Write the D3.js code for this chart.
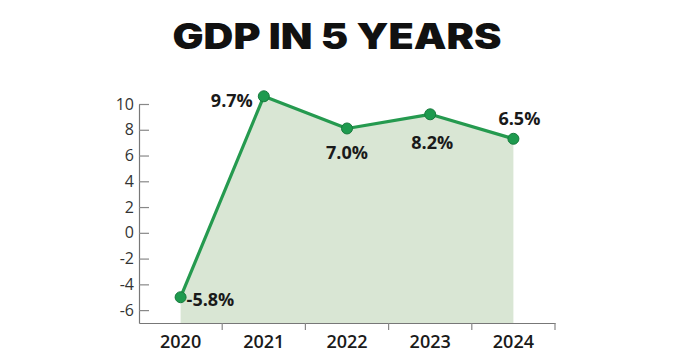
<!DOCTYPE html>
<html><head><meta charset="utf-8">
<script src="https://cdn.jsdelivr.net/npm/d3@7"></script>
<style>body{margin:0;background:#fff}svg{display:block}</style>
</head><body>
<svg id="c" width="675" height="360"></svg>
<script>
const years = ["2020","2021","2022","2023","2024"];
const values = [-5.0, 10.6, 8.1, 9.2, 7.3];
const labels = ["-5.8%","9.7%","7.0%","8.2%","6.5%"];
const yTicks = [-6,-4,-2,0,2,4,6,8,10];
const title = "GDP IN 5 YEARS";

const svg = d3.select("#c");
const x = d3.scaleBand().domain(years).range([139, 555]).padding(0);
const y = d3.scaleLinear().domain([-7, 10]).range([323, 104]);
const cx = d => x(d) + x.bandwidth()/2;

svg.append("text").attr("x", 337).attr("y", 49).attr("text-anchor","middle")
  .attr("font-family","Inter").attr("font-weight",900).attr("font-size",35)
  .attr("textLength",329).attr("lengthAdjust","spacingAndGlyphs")
  .attr("fill","#111").text(title);

const pts = years.map((yr,i)=>({yr, v: values[i], l: labels[i]}));

svg.append("path").datum(pts)
  .attr("fill","#d9e6d4")
  .attr("d", d3.area().x(d=>cx(d.yr)).y0(y(-7)).y1(d=>y(d.v)));

// y axis
const ya = svg.append("g").attr("transform","translate(139,0)")
  .call(d3.axisRight(y).tickValues(yTicks).tickSize(10).tickSizeOuter(0).tickFormat(d=>String(d)));
ya.select(".domain").attr("stroke","#777").attr("stroke-width",1.2);
ya.selectAll(".tick line").attr("stroke","#888").attr("stroke-width",1.2);
ya.selectAll(".tick text").attr("x",-5).attr("text-anchor","end")
  .attr("font-family","Open Sans").attr("font-size",16).attr("font-weight",500).attr("fill","#333");

// x axis
const xa = svg.append("g").attr("transform","translate(0,323)")
  .call(d3.axisBottom(x).tickSize(0).tickSizeOuter(0));
xa.select(".domain").attr("stroke","#777").attr("stroke-width",1.2);
xa.selectAll(".tick text").attr("dy",0).attr("y",25)
  .attr("font-family","Open Sans").attr("font-size",18).attr("font-weight",600).attr("fill","#1a1a1a");
xa.selectAll("line.sep").data(years).enter().append("line").attr("class","sep")
  .attr("x1",d=>x(d)+x.bandwidth()).attr("x2",d=>x(d)+x.bandwidth())
  .attr("y1",0).attr("y2",7).attr("stroke","#888").attr("stroke-width",1.2);

svg.append("path").datum(pts).attr("fill","none").attr("stroke","#259a4f").attr("stroke-width",3.2)
  .attr("stroke-linejoin","round")
  .attr("d", d3.line().x(d=>cx(d.yr)).y(d=>y(d.v)));

svg.selectAll("circle.pt").data(pts).enter().append("circle").attr("class","pt")
  .attr("cx",d=>cx(d.yr)).attr("cy",d=>y(d.v)).attr("r",5.5)
  .attr("fill","#1e9a4e").attr("stroke","#177a3d").attr("stroke-width",1);

const pos = [
  {dx: 6, dy: 9, a: "start"},
  {dx: -11, dy: 11, a: "end"},
  {dx: 0, dy: 31, a: "middle"},
  {dx: 2, dy: 35, a: "middle"},
  {dx: 6, dy: -14, a: "middle"}
];
svg.selectAll("text.lbl").data(pts).enter().append("text").attr("class","lbl")
  .attr("x",(d,i)=>cx(d.yr)+pos[i].dx).attr("y",(d,i)=>y(d.v)+pos[i].dy)
  .attr("text-anchor",(d,i)=>pos[i].a)
  .attr("font-family","Open Sans").attr("font-weight",700).attr("font-size",18)
  .attr("fill","#1a1a1a").text(d=>d.l);
</script>
</body></html>
